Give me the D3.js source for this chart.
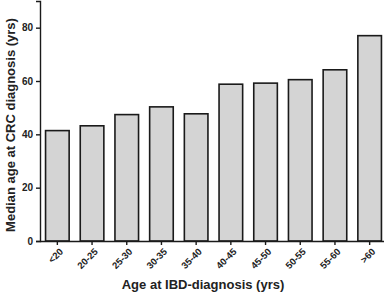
<!DOCTYPE html>
<html><head><meta charset="utf-8">
<script src="https://cdn.jsdelivr.net/npm/d3@7"></script>
<style>
html,body{margin:0;padding:0;background:#fff;}
svg{display:block;}
text{font-family:"Liberation Sans",Arial,sans-serif;font-weight:bold;fill:#222;}
</style></head>
<body>
<script>
const categories = ["<20","20-25","25-30","30-35","35-40","40-45","45-50","50-55","55-60",">60"];
const medianAge = [41.4,43.2,47.4,50.3,47.7,58.8,59.2,60.5,64.2,77.0];
const yTicks = [0,20,40,60,80];

const W = 389, H = 293;
const svg = d3.select("body").append("svg").attr("width", W).attr("height", H);

const x = d3.scaleBand().domain(categories).range([40, 387]).paddingInner(0.32).paddingOuter(0.16);
const y = d3.scaleLinear().domain([0, 90]).range([241, 1]);

svg.selectAll("rect.bar").data(categories).enter().append("rect")
  .attr("class","bar")
  .attr("x", d => x(d))
  .attr("width", x.bandwidth())
  .attr("y", (d,i) => y(medianAge[i]))
  .attr("height", (d,i) => y(0) - y(medianAge[i]))
  .attr("fill", "#d4d4d4")
  .attr("stroke", "#1a1a1a")
  .attr("stroke-width", 1.6);

const yAxis = svg.append("g").attr("transform","translate(40,0)")
  .call(d3.axisLeft(y).tickValues(yTicks).tickSize(4).tickPadding(3).tickFormat(d3.format("d")));
const xAxis = svg.append("g").attr("transform","translate(0,241)")
  .call(d3.axisBottom(x).tickSize(4).tickSizeOuter(0).tickPadding(3));
xAxis.select(".domain").attr("d", "M40,0.5H384");

[yAxis, xAxis].forEach(g => {
  g.selectAll(".domain, .tick line").attr("stroke","#1a1a1a").attr("stroke-width",1.4);
  g.selectAll("text").attr("fill","#222").style("font-family","Liberation Sans, Arial, sans-serif").style("font-weight","bold");
});
yAxis.selectAll(".tick text").attr("font-size", 10);

xAxis.selectAll(".tick text")
  .attr("font-size", 9.5)
  .attr("text-anchor","end")
  .attr("x", null).attr("y", null)
  .attr("dy","0.35em")
  .attr("transform","translate(4,9) rotate(-45)");

svg.append("text").attr("x", 203).attr("y", 289).attr("text-anchor","middle")
  .attr("font-size", 13).text("Age at IBD-diagnosis (yrs)");
svg.append("text").attr("transform","translate(15,125) rotate(-90)").attr("text-anchor","middle")
  .attr("font-size", 13).text("Median age at CRC diagnosis (yrs)");
</script>
</body></html>
